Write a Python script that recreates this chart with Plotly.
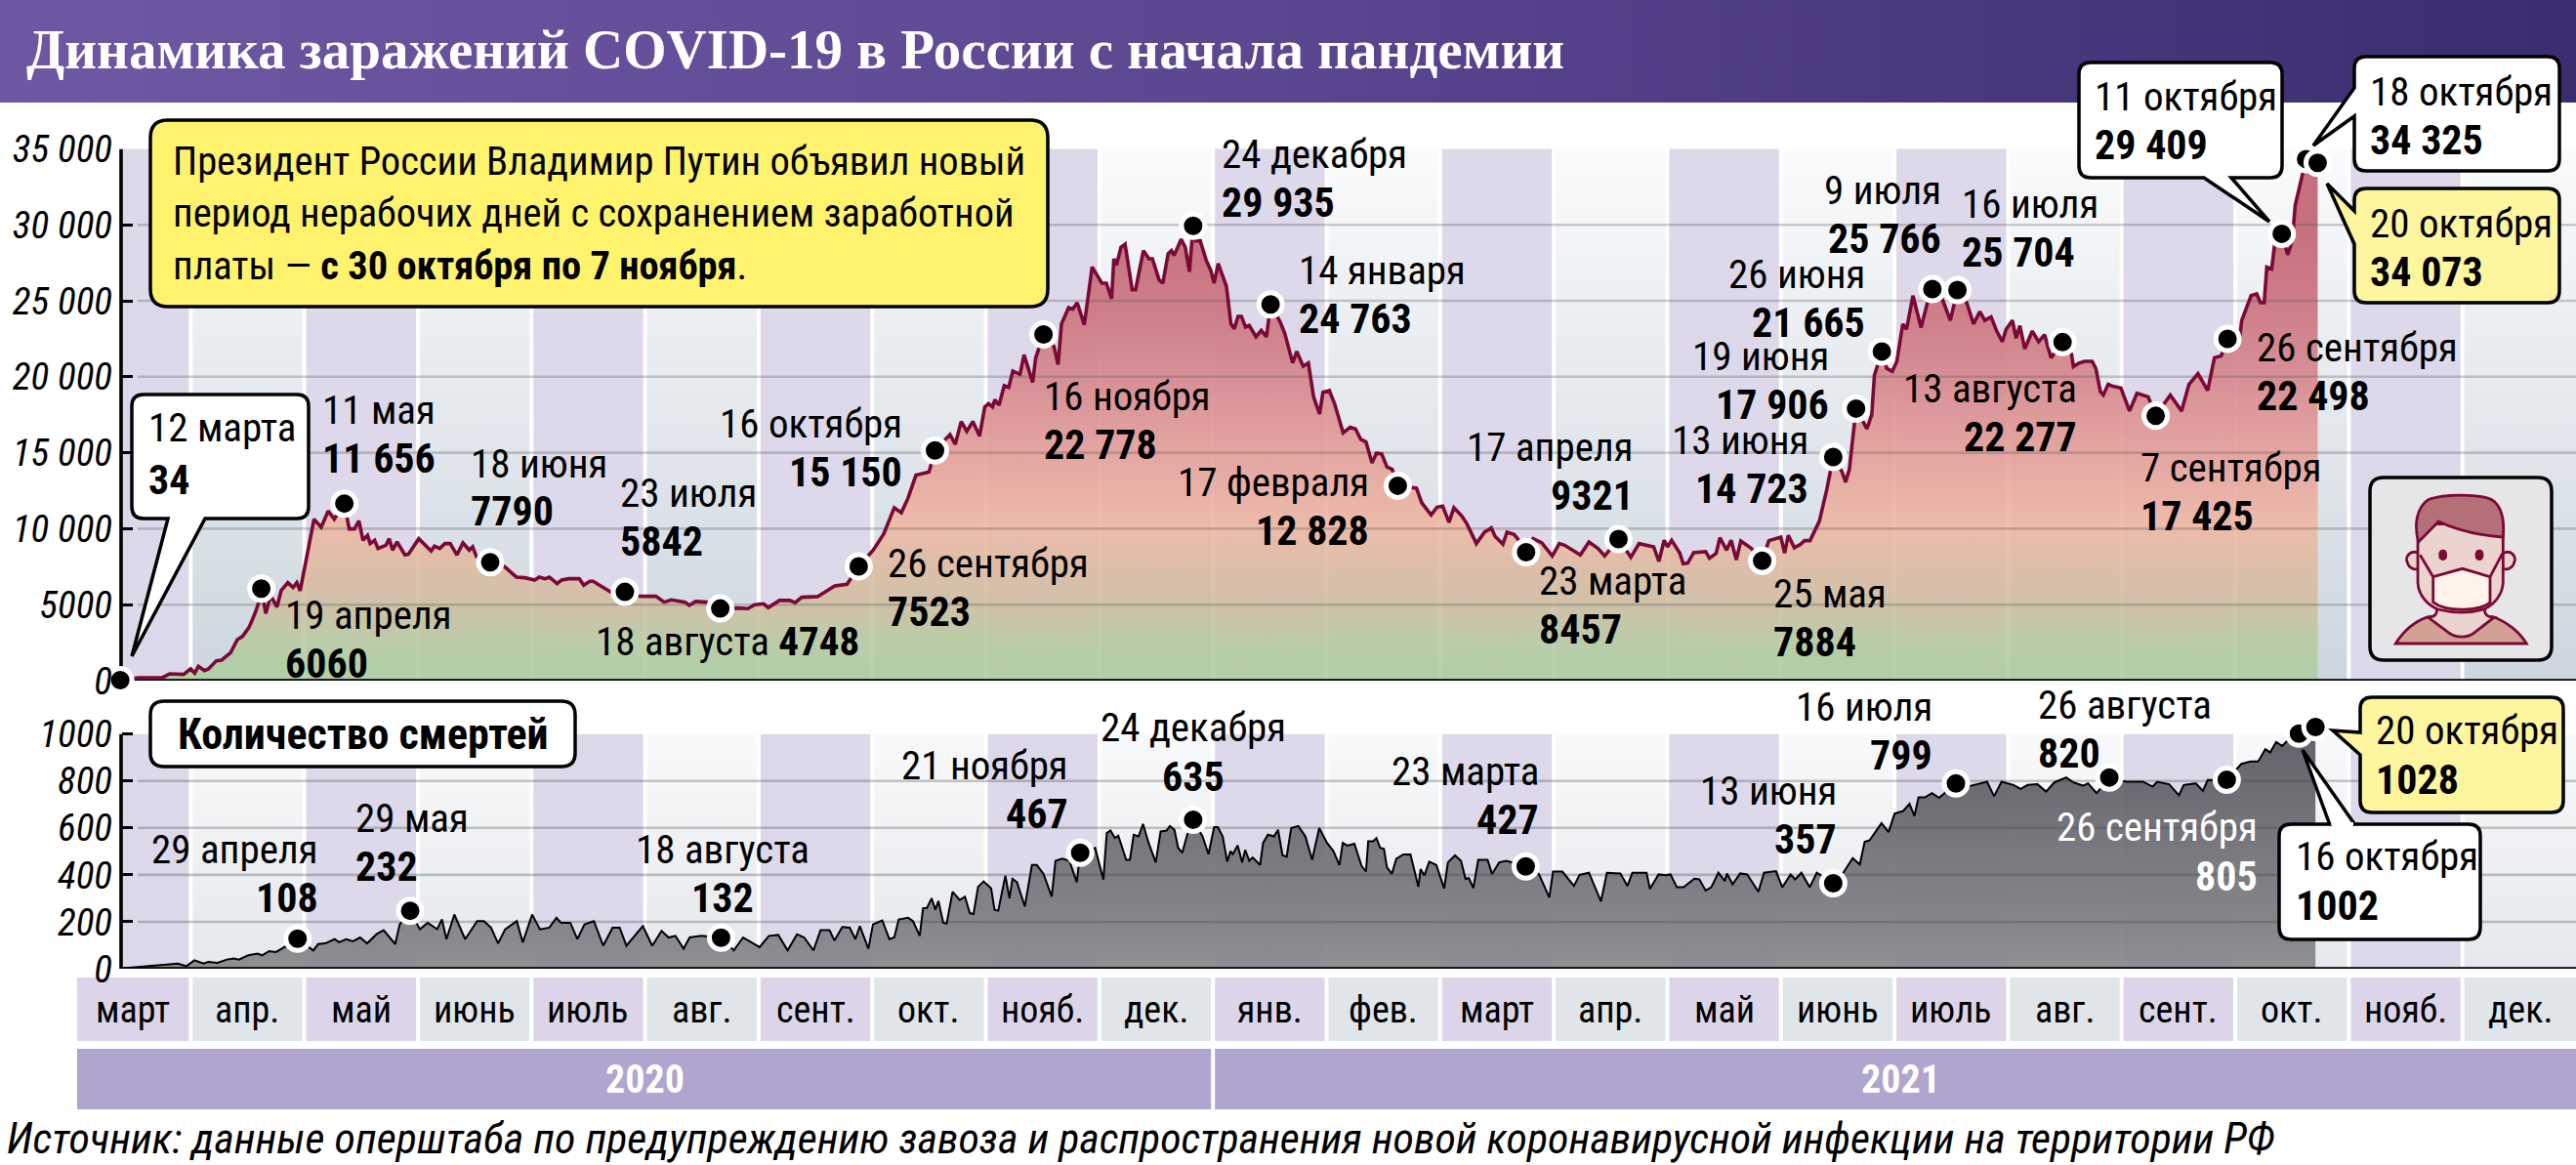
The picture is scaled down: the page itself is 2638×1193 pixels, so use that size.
import re
import plotly.graph_objects as go

# ---------- data ----------
case_days = [11,15.8,22.3,24.2,27.9,29.8,30.9,31.9,33.5,34.6,36.7,38.1,40.5,42.3,43.7,45.4,47,47.9,48.7,49.9,51.2,52.9,54,55.8,57.2,58.2,59.1,60.5,61.4,62.8,64.7,66.6,68.2,70.9,72.2,73.6,74.8,75.9,77.1,77.8,79,79.9,82,82.9,83.8,85,87.1,88,90.8,94.1,95,96.4,97.8,99.2,101,102.6,104.3,105.2,106.2,109.9,113.6,116.9,119.2,121.8,123,124.6,125.7,127.8,129,130.9,133.7,134.9,136.5,137.4,142,145.9,150,154.2,156.4,158.3,162,163.1,164.8,167.6,171.4,176,178.8,180.6,183,184.2,187.2,190,191.4,193.2,197.4,202,205.3,208.4,212.3,215.1,217.9,219.8,221.6,223.7,225.4,227.2,228.8,231.9,232.8,234.2,235.8,237.3,238.9,240.7,242.1,243.1,244.2,244.8,245.9,247.3,248.5,249.6,251.5,252.6,254.9,255.7,257.8,260.6,261.7,262.6,264.5,265.6,266.8,268.7,270.8,273.4,274.6,276,276.6,277.3,278.5,279.6,281.5,282.4,284.5,286,286.9,288.7,289.7,291.1,292,292.7,294.6,295.7,296.8,297.8,298.5,299.7,301.3,302.5,303.4,304.5,306.7,307.9,308.8,309.8,310.7,311.8,312.8,314.6,316,317.4,318.5,321.1,322.3,324.4,325.5,327.2,328.6,330,331.6,332.5,334.2,335.6,337.9,339.8,341.2,342.6,344,345.6,346.8,348.2,349.6,351,352.5,357.5,358.9,361.4,363,364.5,366.2,367.5,369.6,371,373.5,375.7,377.5,378.5,380.6,381.7,383.6,384.5,386.8,388.7,391,393.8,395.7,397.1,399.4,401.3,403.6,406,407.8,411.5,414.8,417,420.9,422.3,423.7,424.6,425.7,427.9,428.8,430,431.6,434.8,435.8,437.6,438.6,440.4,441.6,443,444.2,447,449.9,451.7,454.9,455.9,456.9,458.5,460.2,461.2,462.7,465.2,467.2,468.9,471.2,472.2,473.2,474.5,475,477.9,479.2,479.9,481.9,483.2,484.7,485.9,487.5,488.5,490.2,492.4,494.2,495.4,497.7,500.2,502.1,504.6,506.4,508.1,509.4,511.1,512.6,514.1,515.1,516.8,517.8,518.8,520.1,522.1,523.8,525.4,527.1,530.2,532.6,533.1,534.6,536.1,538.1,539.1,540.3,541.1,542.4,543.6,545.8,548.1,550.1,553.1,555.1,559,562,564,566.4,569,570.8,572.6,574.3,577.6,578.1,580.6,582.1,583.1,584.1,584.8,586.1,586.9,588.8,590.4,591.6,592.4,594.1,595.3,598.4]
case_values = [34,196,196,453,410,774,495,945,667,774,1310,1352,1845,2702,2916,3495,4416,5058,6060,4416,5593,4844,5915,6450,6130,6450,5915,7735,8600,10627,10092,11163,10627,11656,9985,9985,10520,9235,9556,9021,9235,8700,8914,9342,8592,9128,8271,8314,9342,8528,8850,8700,9021,9021,8271,9064,8592,8806,8164,7790,7521,6815,6772,6622,6815,6708,6815,6386,6622,6708,6708,6279,6536,6536,5850,5842,5550,5550,5167,5317,5167,4953,5210,5167,4748,4781,4739,4996,5060,4803,5275,5275,5125,5489,5532,6238,6345,7523,8594,9665,11379,11058,12022,13521,13628,13735,15150,15984,16198,15556,17055,16412,17055,16091,18019,18233,18019,18490,18126,19411,19304,20375,20161,21446,19625,21232,22778,21982,20800,23481,24552,24445,24873,23417,27230,26159,26159,25130,27765,27337,28515,28729,25730,25730,28300,27765,27765,26373,26159,28086,28300,27979,29050,28515,26908,29935,28943,28943,27658,27015,26159,27444,25944,23481,23160,23974,23974,23267,23374,22624,23053,22624,24763,23588,22838,20911,21660,20697,20911,18662,17548,18983,19090,18233,16305,16670,16562,15877,15706,14335,14977,14913,14057,13906,12828,12664,11700,10907,11420,11485,10415,11378,10843,10308,9022,9772,10050,9494,8980,9772,9622,9344,8457,9344,9065,8209,9022,8915,8594,8273,9129,8701,8209,9321,8123,9022,8808,7845,9236,8808,9236,8380,7694,7737,8423,8487,8059,8380,9408,8594,9236,7952,9194,8701,7884,9215,9448,8397,9565,8747,8981,9215,9215,10500,12603,14723,13772,13071,13889,16810,17906,16576,17511,20082,21665,20549,20362,21017,23471,23120,25340,23237,24990,25766,25340,23705,25704,24873,23471,24289,23705,23938,23003,22302,23120,23705,22536,23354,21835,23003,22302,22769,21250,22277,21484,20666,20900,21017,21017,20549,19030,18797,19498,19381,19264,17745,18913,18679,17425,18797,17745,19498,20199,19100,21250,21367,22498,22653,23705,25340,25457,24873,24873,27210,27093,28729,29409,28028,28963,31300,33169,34325,34073]

death_days = [11,22.7,26.4,28.7,30.8,33.3,34.5,37,39.5,41.4,42.7,45.2,47.7,48.9,50.8,52.6,55.1,58.4,62.6,63.9,65.8,68.3,69.5,71.4,73.2,75.1,77,79.5,81.4,84.5,85.7,88.5,91.1,93.2,95.7,97,98.2,100.3,103.2,106.4,108.2,110.1,112,113.9,117,118.6,121.1,123.2,125.7,127.6,128.8,131.3,133.2,135.1,137.6,140.1,142.6,144.5,146.3,150.7,153.2,155.7,157.6,159.4,161.6,163.2,166.3,171.6,175,177.5,181.9,184.4,186.9,189.4,191.9,193.8,196.3,198.2,200.6,201.9,204,206,207.5,208.7,211,212.2,214.7,216.6,217.9,219.1,221.6,222.9,224.7,225.6,226.6,227.9,228.9,229.7,231,231.9,233.5,235.4,236.8,238.1,239.1,240.3,241.8,243.8,244.7,245.7,247.6,248.7,249.5,250.7,252.8,254.7,256,257.8,260,261,262.8,264.7,266.7,267.6,271.6,273.8,274.7,275.7,276.9,277.8,279.9,280.9,281.9,283.2,284.4,285.9,287.8,289.1,290.7,291.6,292.8,293.8,294.9,296.2,297.8,300.3,301.9,303.4,304.4,305.7,306.9,307.8,308.4,309.7,310.9,311.7,312.8,313.7,315.7,316.5,317.8,319.4,320.5,321.7,322.8,324,325.9,327.8,329.6,331.5,333.6,335.3,336.9,337.8,339,340.9,342.8,344,344.6,345.9,346.8,347.8,348.8,349.6,350.9,352.1,354,355.9,358,358.6,359.6,360.9,362.8,364.9,365.9,367.8,369.4,370.6,371.5,372.7,374,376.5,377.7,379.6,381.5,386.7,390.2,393,394,396.5,399.6,401.1,403.6,406.8,408.4,412,413.9,415.2,419,419.9,422.2,424.1,425.4,427.1,428.9,431.8,433.1,434.8,436.3,438.2,439.9,440.5,442,444,445.9,448.9,450.4,453.6,455.3,457.5,458.7,460.4,462.6,464.5,468.9,471.6,474.1,476,477.3,478.6,481.8,483.7,485.3,487.6,489.3,490.6,491.7,493.4,495.3,497.2,501.7,504.9,508.1,510,511.9,513.9,517.1,519,520.9,523.5,525.8,528,531.2,533.1,535.7,537,539.3,542.7,547.2,551.7,554.3,555.5,558.7,561.3,562.6,565.8,567.7,569,574.1,578,580.5,582.5,584.4,585.7,587.3,588.9,590.2,593.4,597.8]
death_values = [1,19,22,11,36,22,29,25,39,44,39,57,64,57,75,71,94,128,78,105,108,126,113,126,117,133,108,147,164,105,189,247,168,196,168,210,126,231,126,203,203,175,108,168,203,112,231,168,175,217,196,196,126,189,203,98,175,175,98,182,98,161,133,140,85,133,140,132,78,133,92,140,144,78,147,133,78,164,164,120,178,175,126,182,85,189,206,126,133,210,217,203,140,258,258,300,251,289,196,192,328,293,307,237,233,349,372,342,251,247,397,300,383,369,265,442,442,404,307,460,469,460,369,494,515,380,578,589,557,567,464,464,571,564,617,536,453,585,589,608,592,515,494,571,635,564,488,603,603,564,456,501,488,525,453,506,460,474,442,536,571,564,592,483,478,599,608,564,464,599,536,501,442,536,525,533,439,414,543,543,557,515,511,432,404,469,487,487,349,425,397,456,442,342,453,483,460,383,386,344,464,464,404,453,460,436,404,303,414,414,353,400,409,287,409,406,353,409,409,340,402,398,402,347,347,384,381,333,347,409,374,406,360,406,402,328,409,416,347,402,381,409,347,409,364,409,471,444,541,547,620,582,661,672,703,651,730,730,748,728,790,776,790,797,735,797,783,766,783,786,755,794,815,794,780,790,748,815,797,797,776,797,786,739,783,790,758,804,805,873,883,883,936,922,966,949,970,1002,1030]

case_dot_days = [11,48.7,70.9,109.9,145.9,171.4,208.4,228.8,257.8,297.8,318.5,352.5,386.8,411.5,449.9,468.9,475,481.9,495.4,502.1,530.2,555.1,574.3,588.8,595.3,598.4]
case_dot_values = [34,6060,11656,7790,5842,4748,7523,15150,22778,29935,24763,12828,8457,9321,7884,14723,17906,21665,25766,25704,22277,17425,22498,29409,34325,34073]
death_dot_days = [58.4,88.5,171.6,267.6,297.8,386.7,468.9,501.7,542.7,574.1,593.4,597.8]
death_dot_values = [128,247,132,494,635,436,364,790,815,805,1002,1030]

months = ["март","апр.","май","июнь","июль","авг.","сент.","окт.","нояб.","дек.","янв.","фев.",
          "март","апр.","май","июнь","июль","авг.","сент.","окт.","нояб.","дек."]
case_ticks = [0,5000,10000,15000,20000,25000,30000,35000]
case_ticktext = ["0","5000","10 000","15 000","20 000","25 000","30 000","35 000"]
death_ticks = [0,200,400,600,800,1000]

# date, value, anchor side, x, y of date, y of value
top_labels = [
 ("12 марта","34","left",150,438,491),
 ("11 мая","11 656","left",328,420,469),
 ("18 июня","7790","left",480,475,523),
 ("23 июля","5842","left",633,505,554),
 ("19 апреля","6060","left",290,630,679),
 ("16 октября","15 150","right",926,434,483),
 ("26 сентября","7523","left",907,577,626),
 ("24 декабря","29 935","left",1249,158,207),
 ("16 ноября","22 778","left",1067,406,455),
 ("14 января","24 763","left",1328,277,326),
 ("17 февраля","12 828","right",1404,494,543),
 ("17 апреля","9321","right",1675,458,507),
 ("23 марта","8457","left",1574,595,644),
 ("13 июня","14 723","right",1854,451,500),
 ("19 июня","17 906","right",1875,365,414),
 ("26 июня","21 665","right",1912,281,330),
 ("25 мая","7884","left",1814,608,657),
 ("9 июля","25 766","right",1990,195,244),
 ("16 июля","25 704","left",2007,209,258),
 ("13 августа","22 277","right",2129,398,447),
 ("7 сентября","17 425","left",2190,479,528),
 ("26 сентября","22 498","left",2309,356,405),
 ("11 октября","29 409","left",2143,99,148),
 ("18 октября","34 325","left",2425,94,143),
 ("20 октября","34 073","left",2425,229,278),
 ("29 апреля","108","right",328,870,919),
 ("29 мая","232","left",362,838,887),
 ("18 августа","132","center",740,870,919),
 ("21 ноября","467","right",1096,784,833),
 ("24 декабря","635","center",1222,745,795),
 ("23 марта","427","right",1578,790,839),
 ("13 июня","357","right",1883,810,859),
 ("16 июля","799","right",1981,724,773),
 ("26 августа","820","left",2085,722,771),
 ("16 октября","1002","left",2349,877,927),
 ("20 октября","1028","left",2431,748,798),
]

W, H = 2638, 1193
FONT = '"Roboto Condensed","DejaVu Sans Condensed",sans-serif'
SERIF = '"Noto Serif Condensed","Liberation Serif",serif'
X0, PX_PER_DAY = 81.0, 3.831
def px_to_day(p): return (p - X0) / PX_PER_DAY
MONTH_X0, MONTH_W = 79.0, (W - 79.0) / len(months)
TOP_T, TOP_B, LOW_B = 152.4, 697.0, 992.0
DEATH_PX_PER_UNIT = 240.3 / 1000
DEATH_TOP_VALUE = 1045
LOW_T = LOW_B - 240.3           # pixel of the 1000 tick
LOW_AXIS_T = LOW_B - DEATH_TOP_VALUE * DEATH_PX_PER_UNIT
AXIS_X = 124.0

def band(i, left=None):
    a = MONTH_X0 + MONTH_W * i + (2 if i else 0)
    b = MONTH_X0 + MONTH_W * (i + 1) - (2 if i < len(months) - 1 else 0)
    return (max(a, left) if left else a), b

def polys(indices, t, b):
    xs, ys = [], []
    for i in indices:
        a, c = band(i, AXIS_X)
        xs += [a, c, c, a, a, None]
        ys += [t, t, b, b, t, None]
    return xs, ys

fig = go.Figure()
even = [i for i in range(len(months)) if i % 2 == 0]
odd = [i for i in range(len(months)) if i % 2 == 1]

def px_poly(x, y, **kw):
    fig.add_trace(go.Scatter(x=x, y=y, mode="lines", line=dict(width=0), fill="toself",
                             hoverinfo="skip", showlegend=False, xaxis="x", yaxis="y", **kw))

# banner
px_poly([0, W, W, 0, 0], [0, 0, 105, 105, 0],
        fillgradient=dict(type="horizontal", start=0, stop=W,
                          colorscale=[[0, "#6E58A4"], [0.5, "#5B4690"], [1, "#3A2C6E"]]))
# month bands
for t, b, top_c, bot_c in [(TOP_T, TOP_B, "#FAFBFC", "#CDD6DF"), (LOW_T, LOW_B, "#F8F9FA", "#E5E8EC")]:
    x, y = polys(odd, t, b)
    px_poly(x, y, fillgradient=dict(type="vertical", start=t, stop=b, colorscale=[[0, top_c], [1, bot_c]]))
    x, y = polys(even, t, b)
    px_poly(x, y, fillcolor="#DDD8EA")
# month strip
x, y = [], []
for i in odd:
    a, c = band(i); x += [a, c, c, a, a, None]; y += [1001, 1001, 1066, 1066, 1001, None]
px_poly(x, y, fillcolor="#E0E5EA")
x, y = [], []
for i in even:
    a, c = band(i); x += [a, c, c, a, a, None]; y += [1001, 1001, 1066, 1066, 1001, None]
px_poly(x, y, fillcolor="#DCD5E9")
# year bar
y1 = [1074, 1074, 1136, 1136, 1074]
yx = MONTH_X0 + MONTH_W * 10
px_poly([79, yx - 2, yx - 2, 79, 79, None, yx + 2, W, W, yx + 2, yx + 2],
        y1 + [None] + y1, fillcolor="#AFA5CF")

def panel(xa, ya, days, vals, dot_d, dot_v, ticks, line_color, line_w, grad, top, base_w, grid_color):
    lo = px_to_day(141); hi = px_to_day(W)
    fig.add_trace(go.Scatter(x=days, y=vals, mode="lines", line=dict(width=0), fill="tozeroy",
                             fillgradient=dict(type="vertical", start=0, stop=top, colorscale=grad),
                             cliponaxis=False, hoverinfo="skip", showlegend=False, xaxis=xa, yaxis=ya))
    gx, gy = [], []
    for t in ticks[1:]:
        if t < top:
            gx += [lo, hi, None]; gy += [t, t, None]
    fig.add_trace(go.Scatter(x=gx, y=gy, mode="lines", line=dict(color=grid_color, width=2.6),
                             hoverinfo="skip", showlegend=False, xaxis=xa, yaxis=ya))
    ax = px_to_day(AXIS_X)
    fig.add_trace(go.Scatter(x=[ax, ax, None, ax, hi], y=[0, ticks[-1], None, 0, 0], mode="lines",
                             line=dict(color="#000000", width=base_w), cliponaxis=False,
                             hoverinfo="skip", showlegend=False, xaxis=xa, yaxis=ya))
    fig.add_trace(go.Scatter(x=days, y=vals, mode="lines", line=dict(color=line_color, width=line_w),
                             cliponaxis=False, hoverinfo="skip", showlegend=False, xaxis=xa, yaxis=ya))
    fig.add_trace(go.Scatter(x=dot_d, y=dot_v, mode="markers",
                             marker=dict(color="#000000", size=24, line=dict(color="#FFFFFF", width=5)),
                             cliponaxis=False, hoverinfo="skip", showlegend=False, xaxis=xa, yaxis=ya))

case_grad = [[0, "rgba(170,207,160,0.9)"], [0.07, "rgba(183,203,162,0.9)"], [0.143, "rgba(207,190,162,0.9)"],
             [0.29, "rgba(238,184,163,0.9)"], [0.43, "rgba(228,160,155,0.92)"], [0.57, "rgba(214,138,144,0.94)"],
             [0.71, "rgba(204,120,132,0.96)"], [0.86, "rgba(196,106,122,0.96)"], [1, "rgba(196,106,122,0.96)"]]
death_grad = [[0, "rgba(138,140,144,0.96)"], [1, "rgba(94,92,100,0.96)"]]
panel("x2", "y2", case_days, case_values, case_dot_days, case_dot_values, case_ticks,
      "#7A0A35", 3.6, case_grad, 35000, 3.6, "rgba(90,90,90,0.3)")
panel("x3", "y3", death_days, death_values, death_dot_days, death_dot_values, death_ticks,
      "#000000", 2, death_grad, 1000, 3.6, "rgba(70,70,70,0.3)")

# ---------- decoration in pixel coordinates ----------
shapes = []
def callout(x0, y0, x1, y1, r, fill, bottom=None, left=None, lw=3.5):
    d = f"M{x0+r},{y0} L{x1-r},{y0} Q{x1},{y0} {x1},{y0+r} L{x1},{y1-r} Q{x1},{y1} {x1-r},{y1} "
    if bottom:
        d += f"L{bottom[2]},{y1} L{bottom[1][0]},{bottom[1][1]} L{bottom[0]},{y1} "
    d += f"L{x0+r},{y1} Q{x0},{y1} {x0},{y1-r} "
    if left:
        d += f"L{x0},{left[2]} L{left[1][0]},{left[1][1]} L{x0},{left[0]} "
    d += f"L{x0},{y0+r} Q{x0},{y0} {x0+r},{y0} Z"
    shapes.append(dict(type="path", path=d, xref="x", yref="y", layer="above", fillcolor=fill,
                       line=dict(color="#000000", width=lw)))

callout(154, 123, 1073, 314, 18, "#FFF36D")
callout(135, 404, 316, 531, 12, "#FFFFFF", bottom=(172, (135, 672), 210))
callout(2129, 64, 2337, 182, 12, "#FFFFFF", bottom=(2257, (2324, 227), 2285))
callout(2411, 58, 2621, 175, 12, "#FFFFFF", left=(90, (2369, 149), 119))
callout(2411, 193, 2621, 310, 12, "#FEF59F", left=(216, (2383, 188), 250))
callout(154, 718, 589, 785, 14, "#FFFFFF")
callout(2334, 844, 2540, 962, 12, "#FFFFFF")
callout(2417, 714, 2625, 832, 12, "#FEF59F", left=(750, (2389, 748), 773))
# pointer of the 16 October box (its base is on the top edge)
shapes.append(dict(type="path", xref="x", yref="y", layer="above", fillcolor="#FFFFFF",
                   line=dict(color="#000000", width=3.5),
                   path="M2386,845 L2358,768 L2412,845"))
shapes.append(dict(type="path", xref="x", yref="y", layer="above", fillcolor="#FFFFFF", line=dict(width=0),
                   path="M2388,848 L2388,842 L2410,842 L2410,848 Z"))

# mask icon, drawn in the icon's own coordinates
IC = lambda s: re.sub(r"(-?[\d.]+),(-?[\d.]+)",
                      lambda m: f"{2380+float(m[1])/3:.1f},{460+float(m[2])/3:.1f}", s)
callout(2427, 489, 2613, 676, 14, "#E6E6E8")
STROKE = "#7A0A35"
for path, fill in [
    ("M 220,597 C 250,550 290,525 320,515 L 520,515 C 560,530 600,560 622,597 Z", "#D2A094"),
    ("M 345,490 C 350,505 340,515 320,517 L 385,565 C 405,580 440,580 460,565 L 522,517 C 500,515 490,505 495,490 Z", "#EBD3CF"),
    ("M 295,320 C 260,305 250,335 255,345 C 260,370 285,372 292,365 Z", "#EBD3CF"),
    ("M 548,320 C 580,305 590,335 585,345 C 580,370 555,372 548,365 Z", "#EBD3CF"),
    ("M 288,230 L 288,410 C 290,450 320,480 350,492 C 400,505 450,505 495,490 C 525,475 548,445 550,410 L 550,230 Z", "#EBD3CF"),
    ("M 290,285 C 275,230 285,180 320,155 C 370,135 480,138 515,155 C 545,175 555,215 550,270 C 480,265 410,250 352,222 Z", "#B47078"),
    ("M 335,392 L 425,367 L 510,392 L 510,470 C 490,495 380,505 335,470 Z", "#FFF2EA"),
    ("M 295,325 L 335,392", None),
    ("M 548,320 L 510,392", None),
    ("M 356,325 C 356,308 374,308 374,325 C 374,342 356,342 356,325 Z", STROKE),
    ("M 468,325 C 468,308 486,308 486,325 C 486,342 468,342 468,325 Z", STROKE),
]:
    s = dict(type="path", path=IC(path), xref="x", yref="y", layer="above",
             line=dict(color=STROKE, width=2.8))
    if fill: s["fillcolor"] = fill
    shapes.append(s)

anns = []
def text(x, y, s, size=41, color="#000000", anchor="left", family=FONT, weight=None, style=None):
    f = dict(family=family, size=size, color=color)
    if weight: f["weight"] = weight
    if style: f["style"] = style
    anns.append(dict(x=x, y=y, xref="x", yref="y", text=s, showarrow=False, xanchor=anchor,
                     yanchor="middle", font=f, align=anchor))

text(25, 50, "Динамика заражений COVID-19 в России с начала пандемии", size=57, color="#FFFFFF",
     family=SERIF, weight=700)
text(175, 165, "Президент России Владимир Путин объявил новый", size=40.5)
text(175, 218, "период нерабочих дней с сохранением заработной", size=40.5)
text(175, 272, "платы — <b>с 30 октября по 7 ноября</b>.", size=40.5)
text(608, 657, "18 августа <b>4748</b>")
text(372, 752, "Количество смертей", size=44, anchor="center", weight=700)
for d, v, side, x, yd, yv in top_labels:
    text(x, yd, d, anchor=side)
    text(x, yv, v, anchor=side, weight=700, size=42)
text(2314, 847, "26 сентября", color="#FFFFFF", anchor="right")
text(2314, 897, "805", color="#FFFFFF", anchor="right", weight=700, size=42)
for i, m in enumerate(months):
    a, c = band(i)
    text((a + c) / 2, 1034, m, size=38, anchor="center")
text(MONTH_X0 + MONTH_W * 5, 1105, "2020", size=40, color="#FFFFFF", anchor="center", weight=700)
text(1946, 1105, "2021", size=40, color="#FFFFFF", anchor="center", weight=700)
text(5, 1166, "Источник: данные оперштаба по предупреждению завоза и распространения новой коронавирусной инфекции на территории РФ",
     size=44, style="italic")

px_axis = dict(visible=False, fixedrange=True, automargin=False)
day_range = [px_to_day(0), px_to_day(W)]
def y_axis(t, b, rng, vals, texts):
    return dict(domain=[1 - b / H, 1 - t / H], range=rng, anchor="free", position=AXIS_X / W, automargin=False,
                tickvals=vals, ticktext=texts, ticks="inside", ticklen=11, tickwidth=3, tickcolor="#000000",
                showline=False, showgrid=False, zeroline=False, ticklabelstandoff=9,
                tickfont=dict(family=FONT, size=39, color="#000000", style="italic"), fixedrange=True)

fig.update_layout(
    template="none",
    width=W, height=H, autosize=False, margin=dict(l=0, r=0, t=0, b=0, pad=0, autoexpand=False),
    paper_bgcolor="#FFFFFF", plot_bgcolor="rgba(0,0,0,0)", showlegend=False,
    xaxis=dict(px_axis, range=[0, W], domain=[0, 1]),
    yaxis=dict(px_axis, range=[H, 0], domain=[0, 1]),
    xaxis2=dict(px_axis, range=day_range, domain=[0, 1], anchor="y2"),
    yaxis2=y_axis(TOP_T, TOP_B, [0, 35000], case_ticks, case_ticktext),
    xaxis3=dict(px_axis, range=day_range, domain=[0, 1], anchor="y3"),
    yaxis3=y_axis(LOW_AXIS_T, LOW_B, [0, DEATH_TOP_VALUE], death_ticks, [str(v) for v in death_ticks]),
    shapes=shapes, annotations=anns,
)
fig.write_html("out.html", config=dict(displayModeBar=False),
               post_script="document.body.style.margin='0';document.body.style.overflow='hidden';")
